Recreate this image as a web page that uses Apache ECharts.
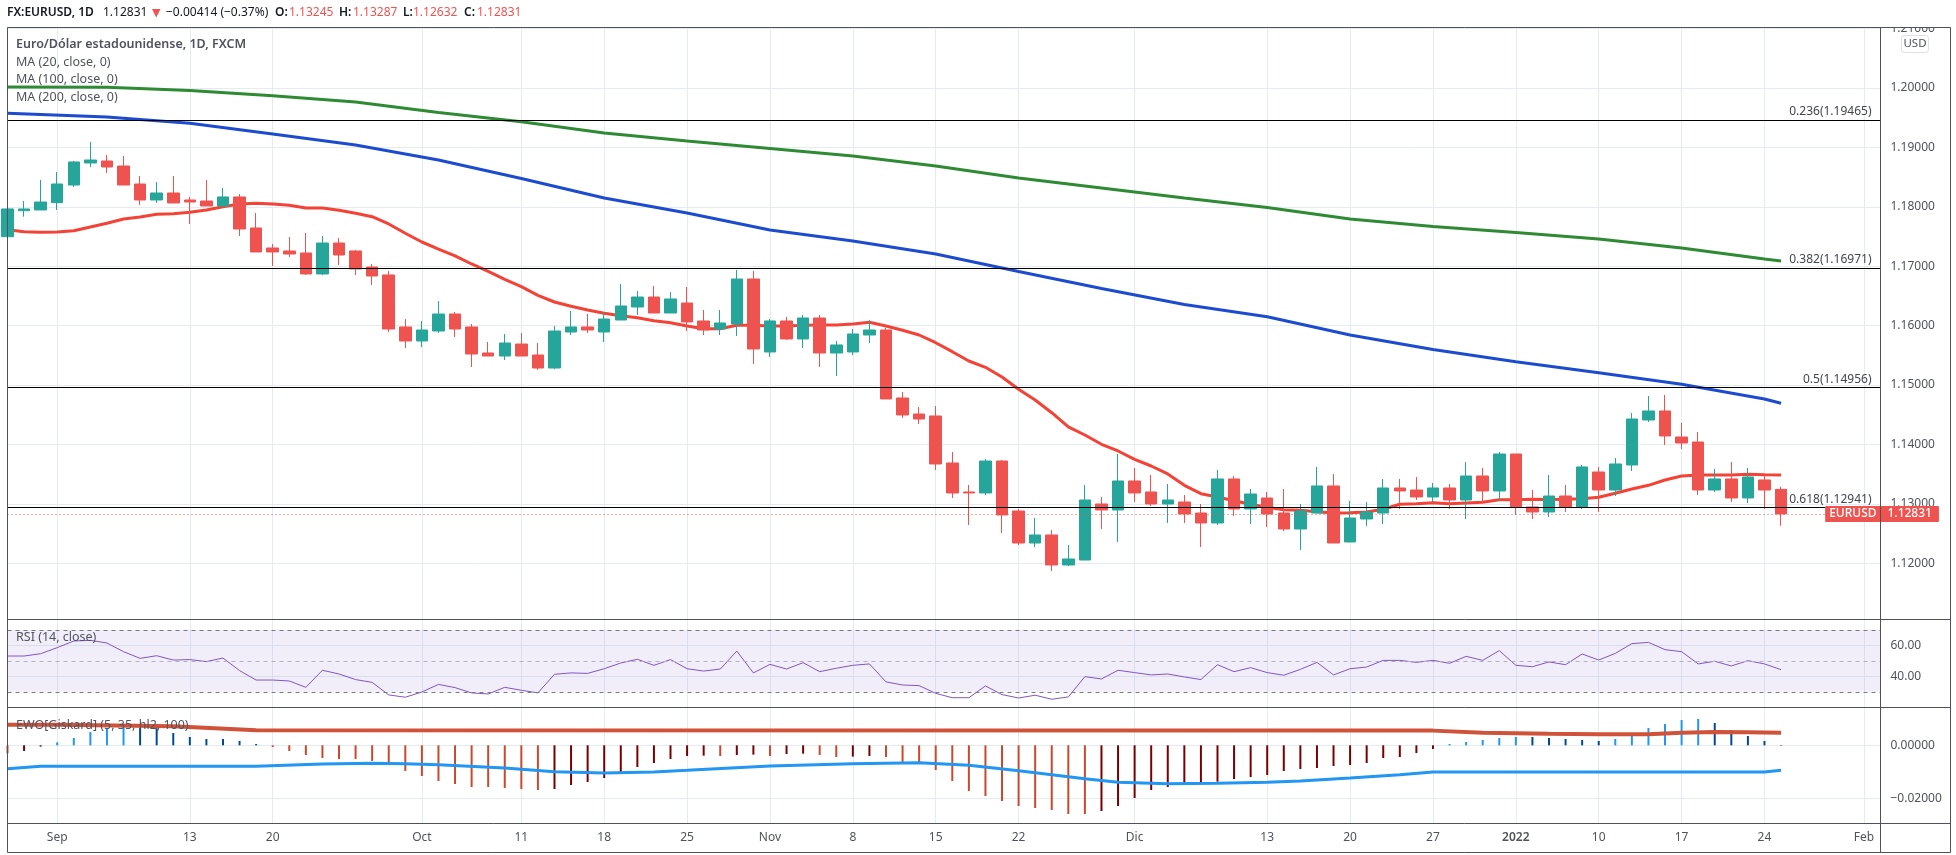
<!DOCTYPE html>
<html>
<head>
<meta charset="utf-8">
<title>EURUSD</title>
<script src="https://cdn.jsdelivr.net/npm/echarts@6/dist/echarts.min.js"></script>
<style>
  html, body { margin: 0; padding: 0; background: #fff; }
  #chart { width: 1956px; height: 855px; }
</style>
</head>
<body>
<div id="chart"></div>
<script>
// sesiones diarias
const categories = [
  '2021-08-27','2021-08-30','2021-08-31',
  '2021-09-01','2021-09-02','2021-09-03','2021-09-06','2021-09-07','2021-09-08','2021-09-09','2021-09-10','2021-09-13','2021-09-14','2021-09-15','2021-09-16','2021-09-17','2021-09-20','2021-09-21','2021-09-22','2021-09-23','2021-09-24','2021-09-27','2021-09-28','2021-09-29','2021-09-30',
  '2021-10-01','2021-10-04','2021-10-05','2021-10-06','2021-10-07','2021-10-08','2021-10-11','2021-10-12','2021-10-13','2021-10-14','2021-10-15','2021-10-18','2021-10-19','2021-10-20','2021-10-21','2021-10-22','2021-10-25','2021-10-26','2021-10-27','2021-10-28','2021-10-29',
  '2021-11-01','2021-11-02','2021-11-03','2021-11-04','2021-11-05','2021-11-08','2021-11-09','2021-11-10','2021-11-11','2021-11-12','2021-11-15','2021-11-16','2021-11-17','2021-11-18','2021-11-19','2021-11-22','2021-11-23','2021-11-24','2021-11-25','2021-11-26','2021-11-29','2021-11-30',
  '2021-12-01','2021-12-02','2021-12-03','2021-12-06','2021-12-07','2021-12-08','2021-12-09','2021-12-10','2021-12-13','2021-12-14','2021-12-15','2021-12-16','2021-12-17','2021-12-20','2021-12-21','2021-12-22','2021-12-23','2021-12-24','2021-12-27','2021-12-28','2021-12-29','2021-12-30','2021-12-31',
  '2022-01-03','2022-01-04','2022-01-05','2022-01-06','2022-01-07','2022-01-10','2022-01-11','2022-01-12','2022-01-13','2022-01-14','2022-01-17','2022-01-18','2022-01-19','2022-01-20','2022-01-21','2022-01-24','2022-01-25','2022-01-26','2022-01-27','2022-01-28','2022-01-31',
  '2022-02-01','2022-02-02'
];
const tickDates = ['2021-09-01','2021-09-13','2021-09-20','2021-10-01','2021-10-11','2021-10-18','2021-10-25','2021-11-01','2021-11-08','2021-11-15','2021-11-22','2021-12-01','2021-12-13','2021-12-20','2021-12-27','2022-01-03','2022-01-10','2022-01-17','2022-01-24','2022-02-01'];
const tickNames = ['Sep','13','20','Oct','11','18','25','Nov','8','15','22','Dic','13','20','27','2022','10','17','24','Feb'];

const opens = [
  1.17497,1.17935,1.17947,1.18070,1.18367,1.18738,1.18771,1.18687,1.18384,1.18115,1.18233,1.18115,1.18098,1.18014,1.18166,1.17644,1.17307,1.17257,1.17223,1.16870,
  1.17391,1.17257,1.16987,1.16853,1.15978,1.15742,1.15910,1.16196,1.15978,1.15540,1.15489,1.15691,1.15506,1.15287,1.15893,1.15978,1.15893,1.16095,1.16314,1.16482,
  1.16213,1.16381,1.16079,1.15944,1.16028,1.16785,1.15557,1.16079,1.15776,1.16129,1.15540,1.15557,1.15843,1.15927,1.14783,1.14513,1.14480,1.13689,1.13201,1.13184,
  1.13722,1.12881,1.12342,1.12477,1.11972,1.12056,1.12999,1.12898,1.13386,1.13201,1.12999,1.13032,1.12847,1.12679,1.13420,1.12915,1.13100,1.12847,1.12578,1.12847,
  1.13302,1.12359,1.12746,1.12847,1.13268,1.13234,1.13117,1.13268,1.13066,1.13470,1.13218,1.13840,1.12949,1.12864,1.13133,1.12949,1.13537,1.13234,1.13655,1.14412,
  1.14564,1.14126,1.14042,1.13234,1.13420,1.13100,1.13403,1.13245
];
const closes = [
  1.17964,1.17964,1.18081,1.18384,1.18755,1.18788,1.18670,1.18367,1.18115,1.18233,1.18065,1.18081,1.18014,1.18166,1.17627,1.17240,1.17240,1.17206,1.16870,1.17391,
  1.17189,1.16954,1.16836,1.15944,1.15742,1.15927,1.16196,1.15944,1.15523,1.15489,1.15708,1.15489,1.15287,1.15910,1.15978,1.15927,1.16112,1.16331,1.16482,1.16213,
  1.16449,1.16062,1.15927,1.16045,1.16785,1.15607,1.16079,1.15776,1.16129,1.15540,1.15675,1.15860,1.15927,1.14766,1.14497,1.14429,1.13672,1.13184,1.13184,1.13722,
  1.12814,1.12342,1.12477,1.11972,1.12073,1.13066,1.12898,1.13386,1.13184,1.12999,1.13066,1.12830,1.12679,1.13420,1.12915,1.13167,1.12830,1.12578,1.12881,1.13302,
  1.12342,1.12763,1.12864,1.13268,1.13218,1.13117,1.13268,1.13066,1.13470,1.13218,1.13840,1.12949,1.12864,1.13133,1.12949,1.13622,1.13234,1.13672,1.14429,1.14564,
  1.14143,1.14025,1.13234,1.13420,1.13100,1.13453,1.13234,1.12831
];
const lows = [
  1.17497,1.17834,1.17947,1.17947,1.18334,1.18670,1.18569,1.18367,1.18031,1.18065,1.18065,1.17711,1.18014,1.17997,1.17509,1.17240,1.17004,1.17156,1.16853,1.16853,
  1.17021,1.16853,1.16685,1.15893,1.15624,1.15641,1.15877,1.15809,1.15304,1.15489,1.15422,1.15489,1.15254,1.15271,1.15843,1.15877,1.15725,1.16095,1.16180,1.16213,
  1.16213,1.15910,1.15843,1.15843,1.15826,1.15355,1.15473,1.15759,1.15624,1.15304,1.15153,1.15506,1.15708,1.14766,1.14446,1.14345,1.13571,1.13100,1.12645,1.13150,
  1.12511,1.12309,1.12275,1.11871,1.11955,1.12056,1.12578,1.12359,1.13032,1.12965,1.12679,1.12679,1.12275,1.12645,1.12797,1.12662,1.12611,1.12544,1.12225,1.12847,
  1.12342,1.12359,1.12628,1.12662,1.12915,1.13066,1.13032,1.12915,1.12746,1.13032,1.13049,1.12814,1.12746,1.12780,1.12864,1.12915,1.12864,1.13133,1.13554,1.14379,
  1.13992,1.13925,1.13150,1.13201,1.13032,1.13015,1.12915,1.12632
];
const highs = [
  1.17964,1.18098,1.18452,1.18586,1.18771,1.19091,1.18872,1.18855,1.18519,1.18418,1.18519,1.18166,1.18452,1.18317,1.18216,1.17896,1.17375,1.17492,1.17560,1.17509,
  1.17476,1.17274,1.17038,1.16920,1.16112,1.16079,1.16415,1.16230,1.16028,1.15725,1.15860,1.15877,1.15708,1.15995,1.16247,1.16196,1.16230,1.16701,1.16584,1.16668,
  1.16567,1.16651,1.16264,1.16264,1.16937,1.16920,1.16112,1.16146,1.16180,1.16180,1.15742,1.15944,1.16095,1.15961,1.14884,1.14631,1.14648,1.13874,1.13319,1.13756,
  1.13739,1.12915,1.12763,1.12561,1.12309,1.13319,1.13117,1.13840,1.13605,1.13487,1.13335,1.13150,1.12999,1.13571,1.13470,1.13251,1.13201,1.13251,1.12999,1.13622,
  1.13504,1.13049,1.13032,1.13420,1.13420,1.13453,1.13352,1.13335,1.13705,1.13605,1.13874,1.13840,1.13234,1.13487,1.13319,1.13655,1.13622,1.13773,1.14530,1.14816,
  1.14833,1.14362,1.14210,1.13588,1.13705,1.13605,1.13487,1.13287
];

// medias moviles
const ma20 = [
  1.17615,1.17581,1.17571,1.17576,1.17598,1.17661,1.17723,1.17795,1.17829,1.17874,1.17884,1.17908,1.17947,1.18002,1.18048,1.18059,1.18048,1.18026,1.17980,1.17980,
  1.17942,1.17891,1.17834,1.17711,1.17555,1.17408,1.17290,1.17173,1.17038,1.16915,1.16780,1.16656,1.16511,1.16398,1.16326,1.16264,1.16208,1.16168,1.16134,1.16084,
  1.16050,1.15995,1.15949,1.15949,1.16006,1.16006,1.15995,1.15995,1.16006,1.16011,1.16011,1.16028,1.16057,1.15995,1.15922,1.15843,1.15713,1.15562,1.15405,1.15299,
  1.15136,1.14929,1.14749,1.14535,1.14295,1.14160,1.14003,1.13891,1.13751,1.13638,1.13504,1.13313,1.13172,1.13117,1.13054,1.12994,1.12943,1.12903,1.12893,1.12869,
  1.12847,1.12852,1.12864,1.12910,1.12994,1.13004,1.13021,1.13004,1.13016,1.13027,1.13071,1.13071,1.13078,1.13075,1.13078,1.13088,1.13111,1.13179,1.13251,1.13313,
  1.13403,1.13470,1.13487,1.13487,1.13487,1.13499,1.13492,1.13487
];
const maDates = ['2021-08-27','2021-09-06','2021-09-13','2021-09-20','2021-09-27','2021-10-04','2021-10-11','2021-10-18','2021-10-25','2021-11-01','2021-11-08','2021-11-15','2021-11-22','2021-11-29','2021-12-06','2021-12-13','2021-12-20','2021-12-27','2022-01-03','2022-01-10','2022-01-17','2022-01-24','2022-01-25'];
const ma100 = [1.19574,1.19512,1.19406,1.19226,1.19041,1.18788,1.18477,1.18149,1.17896,1.17610,1.17425,1.17206,1.16912,1.16626,1.16356,1.16151,1.15843,1.15599,1.15394,1.15208,1.15013,1.14766,1.14693];
const ma200 = [1.20017,1.20013,1.19958,1.19869,1.19764,1.19586,1.19433,1.19243,1.19108,1.18982,1.18855,1.18687,1.18485,1.18317,1.18149,1.17989,1.17795,1.17669,1.17568,1.17459,1.17307,1.17122,1.17088];

// niveles de fibonacci
const fibNames = ['0.236','0.382','0.5','0.618'];
const fibValues = [1.19465,1.16971,1.14956,1.12941];
const lastPrice = 1.12831;

const rsi = [
  53.1,53.1,54.6,58.5,62.8,63.2,61.5,55.9,51.6,53.3,50.5,50.8,49.5,51.8,43.7,37.6,37.6,37.0,32.9,43.9,
  41.5,37.9,36.1,28.0,26.5,29.9,34.8,32.7,29.3,28.6,32.9,31.0,29.3,41.3,42.2,41.9,44.9,48.6,51.0,47.1,
  50.8,44.9,43.4,44.7,56.3,42.2,47.7,44.7,48.8,43.0,45.2,47.1,48.0,36.4,34.4,34.0,29.0,26.2,26.2,33.8,
  28.2,26.0,27.8,25.2,26.7,39.8,38.3,43.9,42.4,40.9,41.5,39.6,37.9,47.5,43.0,45.6,42.4,40.7,44.5,49.0,
  40.9,44.9,46.0,50.3,50.3,49.0,50.3,48.4,52.9,50.3,56.6,47.1,46.2,49.3,47.5,54.4,50.5,54.8,61.1,61.9,
  57.2,55.9,48.0,49.7,46.7,50.1,48.0,44.3
];

const ewo = [
  -0.00300,-0.00214,-0.00050,0.00113,0.00277,0.00503,0.00629,0.00654,0.00654,0.00642,0.00465,0.00315,0.00239,0.00239,0.00164,0.00050,-0.00063,-0.00214,-0.00365,-0.00478,
  -0.00516,-0.00516,-0.00591,-0.00742,-0.00969,-0.01157,-0.01346,-0.01459,-0.01573,-0.01573,-0.01610,-0.01648,-0.01686,-0.01648,-0.01497,-0.01384,-0.01233,-0.01006,-0.00818,-0.00667,
  -0.00516,-0.00403,-0.00390,-0.00403,-0.00365,-0.00352,-0.00403,-0.00327,-0.00315,-0.00365,-0.00440,-0.00428,-0.00403,-0.00440,-0.00629,-0.00629,-0.00931,-0.01346,-0.01723,-0.01912,
  -0.02101,-0.02290,-0.02365,-0.02441,-0.02591,-0.02591,-0.02478,-0.02290,-0.01988,-0.01686,-0.01573,-0.01459,-0.01384,-0.01371,-0.01271,-0.01195,-0.01120,-0.00969,-0.00893,-0.00855,
  -0.00780,-0.00742,-0.00667,-0.00478,-0.00440,-0.00289,-0.00138,0.00050,0.00126,0.00201,0.00277,0.00315,0.00315,0.00277,0.00239,0.00201,0.00164,0.00239,0.00352,0.00654,
  0.00805,0.00956,0.00994,0.00843,0.00579,0.00352,0.00164,-0.00025
];
const ewoUpDates = ['2021-08-27','2021-09-01','2021-09-10','2021-09-17','2021-12-27','2021-12-30','2022-01-05','2022-01-10','2022-01-13','2022-01-17','2022-01-19','2022-01-21','2022-01-25'];
const ewoUp = [0.00780,0.00780,0.00717,0.00566,0.00554,0.00478,0.00440,0.00415,0.00415,0.00478,0.00503,0.00491,0.00478];
const ewoDownDates = ['2021-08-27','2021-08-31','2021-09-17','2021-09-23','2021-09-28','2021-09-30','2021-10-04','2021-10-08','2021-10-13','2021-10-18','2021-10-21','2021-10-25','2021-11-01','2021-11-08','2021-11-12','2021-11-17','2021-11-22','2021-11-26','2021-11-30','2021-12-03','2021-12-08','2021-12-13','2021-12-15','2021-12-20','2021-12-23','2021-12-27','2022-01-24','2022-01-25'];
const ewoDown = [-0.00881,-0.00793,-0.00793,-0.00704,-0.00679,-0.00692,-0.00730,-0.00855,-0.00994,-0.01044,-0.01006,-0.00944,-0.00780,-0.00692,-0.00654,-0.00755,-0.00956,-0.01258,-0.01396,-0.01447,-0.01434,-0.01396,-0.01346,-0.01233,-0.01107,-0.01006,-0.01006,-0.00944];

// etiquetas de los ejes
const priceTicks = [1.12,1.13,1.14,1.15,1.16,1.17,1.18,1.19,1.20,1.21];
const rsiTicks = [40,60];
const ewoTicks = [-0.02,0];

const FONT = '"Noto Sans", sans-serif';
const TEXT = '#50535e';
const GRID_COLOR = '#e4ecf2';
const FRAME = '#4f525c';
const UP = '#26a69a';
const DOWN = '#ef5350';

// pares fecha/valor para las lineas con lecturas semanales
function pairs(dates, values) {
  return dates.map((d, i) => [d, values[i]]);
}

function showTick(index, value) {
  return tickDates.indexOf(value) >= 0;
}

function xAxis(gridIndex, showLabel) {
  return {
    type: 'category',
    gridIndex: gridIndex,
    data: categories,
    boundaryGap: false,
    axisLine: { show: false },
    axisTick: { show: false },
    splitLine: { show: true, interval: showTick, lineStyle: { color: GRID_COLOR, width: 1 } },
    axisLabel: {
      show: showLabel,
      interval: showTick,
      margin: 9,
      fontFamily: FONT,
      fontSize: 12,
      color: TEXT,
      formatter: (value) => {
        const name = tickNames[tickDates.indexOf(value)];
        return name === '2022' ? '{bold|' + name + '}' : name;
      },
      rich: { bold: { fontFamily: FONT, fontSize: 12, fontWeight: 600, color: TEXT } }
    }
  };
}

function yAxis(gridIndex, min, max, ticks, format) {
  return {
    type: 'value',
    gridIndex: gridIndex,
    position: 'right',
    min: min,
    max: max,
    axisLine: { show: false },
    axisTick: { show: false, customValues: ticks },
    splitLine: { show: true, lineStyle: { color: GRID_COLOR, width: 1 } },
    axisLabel: {
      customValues: ticks,
      margin: 10,
      fontFamily: FONT,
      fontSize: 12,
      color: TEXT,
      showMinLabel: true,
      showMaxLabel: true,
      formatter: format
    }
  };
}

function frameLine(x1, y1, x2, y2) {
  return {
    type: 'line',
    silent: true,
    z: 50,
    shape: { x1: x1, y1: y1, x2: x2, y2: y2 },
    style: { stroke: FRAME, lineWidth: 1 }
  };
}

function label(x, y, text, weight) {
  return {
    type: 'text',
    silent: true,
    z: 60,
    x: x,
    y: y,
    style: { text: text, fontFamily: FONT, fontSize: 12.5, fontWeight: weight || 400, fill: TEXT, textVerticalAlign: 'middle' }
  };
}

// trozos de la cabecera
function head(x, text, color, weight) {
  return {
    type: 'text',
    silent: true,
    z: 60,
    x: x,
    y: 12.5,
    style: { text: text, fontFamily: FONT, fontSize: 12, fontWeight: weight || 400, fill: color, textVerticalAlign: 'middle' }
  };
}

const chart = echarts.init(document.getElementById('chart'));

const fibLines = fibNames.map((name, i) => ({
  yAxis: fibValues[i],
  lineStyle: { color: '#000', width: 1.2, type: 'solid' },
  label: {
    show: true,
    position: 'insideEndTop',
    distance: [9, 2],
    formatter: name + '(' + fibValues[i].toFixed(5) + ')',
    fontFamily: FONT,
    fontSize: 12,
    color: '#434651'
  }
}));

chart.setOption({
  animation: false,
  backgroundColor: '#ffffff',
  grid: [
    { left: 7.5, right: 75.5, top: 27.5, height: 591.8 },
    { left: 7.5, right: 75.5, top: 619.3, height: 87.7 },
    { left: 7.5, right: 75.5, top: 707, height: 116 }
  ],
  xAxis: [xAxis(0, false), xAxis(1, false), xAxis(2, true)],
  yAxis: [
    yAxis(0, 1.11058, 1.21018, priceTicks, (v) => v.toFixed(5)),
    yAxis(1, 20.2, 76.8, rsiTicks, (v) => v.toFixed(2)),
    yAxis(2, -0.0293, 0.01445, ewoTicks, (v) => v.toFixed(5).replace('-', '\u2212'))
  ],
  series: [
    {
      name: 'MA 20', type: 'line', xAxisIndex: 0, yAxisIndex: 0, z: 1,
      data: ma20, symbol: 'none',
      lineStyle: { color: '#f44336', width: 3 }
    },
    {
      name: 'MA 100', type: 'line', xAxisIndex: 0, yAxisIndex: 0, z: 1,
      data: pairs(maDates, ma100), symbol: 'none',
      lineStyle: { color: '#1c4bd0', width: 3 }
    },
    {
      name: 'MA 200', type: 'line', xAxisIndex: 0, yAxisIndex: 0, z: 1,
      data: pairs(maDates, ma200), symbol: 'none',
      lineStyle: { color: '#2e8b34', width: 3 }
    },
    {
      name: 'EURUSD', type: 'candlestick', xAxisIndex: 0, yAxisIndex: 0, z: 2,
      barWidth: 12,
      data: opens.map((o, i) => [o, closes[i], lows[i], highs[i]]),
      itemStyle: { color: UP, color0: DOWN, borderColor: UP, borderColor0: DOWN, borderWidth: 1 },
      markLine: {
        silent: true,
        symbol: 'none',
        animation: false,
        precision: 5,
        z: 5,
        data: fibLines.concat([
          {
            yAxis: lastPrice,
            lineStyle: { color: DOWN, width: 1, type: [1, 3] },
            label: {
              show: true, position: 'end', distance: 0,
              formatter: lastPrice.toFixed(5),
              fontFamily: FONT, fontSize: 12, fontWeight: 500, color: '#fff',
              backgroundColor: DOWN, padding: [2, 7, 2, 7], borderRadius: 1
            }
          },
          {
            yAxis: lastPrice,
            lineStyle: { color: 'rgba(0,0,0,0)', width: 0 },
            label: {
              show: true, position: 'insideEnd', distance: 0,
              formatter: 'EURUSD',
              fontFamily: FONT, fontSize: 12, fontWeight: 500, color: '#fff',
              backgroundColor: DOWN, padding: [2, 4, 2, 4], borderRadius: 1
            }
          }
        ])
      }
    },
    {
      name: 'RSI', type: 'line', xAxisIndex: 1, yAxisIndex: 1, z: 3,
      data: rsi, symbol: 'none',
      lineStyle: { color: '#7e57c2', width: 1 },
      markArea: {
        silent: true,
        itemStyle: { color: 'rgba(126,87,194,0.1)' },
        data: [[{ yAxis: 70 }, { yAxis: 30 }]]
      },
      markLine: {
        silent: true,
        symbol: 'none',
        animation: false,
        label: { show: false },
        data: [
          { yAxis: 70, lineStyle: { color: '#787b86', width: 1, type: [4, 4] } },
          { yAxis: 50, lineStyle: { color: '#b4b0c0', width: 1, type: [4, 4] } },
          { yAxis: 30, lineStyle: { color: '#787b86', width: 1, type: [4, 4] } }
        ]
      }
    },
    {
      name: 'EWO', type: 'bar', xAxisIndex: 2, yAxisIndex: 2, z: 2,
      barWidth: 2,
      data: ewo,
      itemStyle: {
        // claro si el histograma crece, oscuro si se contrae
        color: (p) => {
          const v = p.value;
          const prev = p.dataIndex > 0 ? ewo[p.dataIndex - 1] : v;
          if (v > 0) return v > prev ? '#2196f3' : '#004a94';
          return v <= prev ? '#c9482e' : '#780000';
        }
      }
    },
    {
      name: 'EWO up', type: 'line', xAxisIndex: 2, yAxisIndex: 2, z: 3,
      data: pairs(ewoUpDates, ewoUp), symbol: 'none',
      lineStyle: { color: '#cf5239', width: 4 }
    },
    {
      name: 'EWO down', type: 'line', xAxisIndex: 2, yAxisIndex: 2, z: 3,
      data: pairs(ewoDownDates, ewoDown), symbol: 'none',
      lineStyle: { color: '#2196f3', width: 3 }
    }
  ],
  graphic: [
    // marco de los paneles
    frameLine(7.5, 27.5, 1950.5, 27.5),
    frameLine(7.5, 27.5, 7.5, 852.5),
    frameLine(1880.5, 27.5, 1880.5, 852.5),
    frameLine(1950.5, 27.5, 1950.5, 852.5),
    frameLine(7.5, 619.5, 1950.5, 619.5),
    frameLine(7.5, 707.5, 1950.5, 707.5),
    frameLine(7.5, 823.5, 1950.5, 823.5),
    frameLine(7.5, 852.5, 1950.5, 852.5),
    // tapa la parte de 1.21000 que queda fuera del panel
    { type: 'rect', silent: true, z: 40, shape: { x: 1882, y: 10, width: 66, height: 17.5 }, style: { fill: '#fff' } },
    head(7, 'FX:EURUSD, 1D', '#131722', 600),
    head(103, '1.12831', '#131722'),
    { type: 'polygon', silent: true, z: 60, shape: { points: [[152, 9], [160.5, 9], [156.2, 17.5]] }, style: { fill: DOWN } },
    head(166, '\u22120.00414 (\u22120.37%)', '#131722'),
    head(275, 'O:', '#131722', 600),
    head(289, '1.13245', DOWN),
    head(339, 'H:', '#131722', 600),
    head(353, '1.13287', DOWN),
    head(403, 'L:', '#131722', 600),
    head(413, '1.12632', DOWN),
    head(464, 'C:', '#131722', 600),
    head(477, '1.12831', DOWN),
    label(16, 44.5, 'Euro/D\u00F3lar estadounidense, 1D, FXCM', 600),
    label(16, 62, 'MA (20, close, 0)'),
    label(16, 79.5, 'MA (100, close, 0)'),
    label(16, 97, 'MA (200, close, 0)'),
    label(16, 637.5, 'RSI (14, close)'),
    label(16, 725, 'EWO[Giskard] (5, 35, hl2, 100)'),
    {
      type: 'rect', silent: true, z: 60,
      shape: { x: 1901.5, y: 35.5, width: 27, height: 17, r: 3 },
      style: { fill: '#fff', stroke: '#dcdfe8', lineWidth: 1 }
    },
    {
      type: 'text', silent: true, z: 61, x: 1915, y: 44,
      style: { text: 'USD', fontFamily: FONT, fontSize: 11.5, fill: TEXT, textAlign: 'center', textVerticalAlign: 'middle' }
    }
  ]
});
</script>
</body>
</html>
